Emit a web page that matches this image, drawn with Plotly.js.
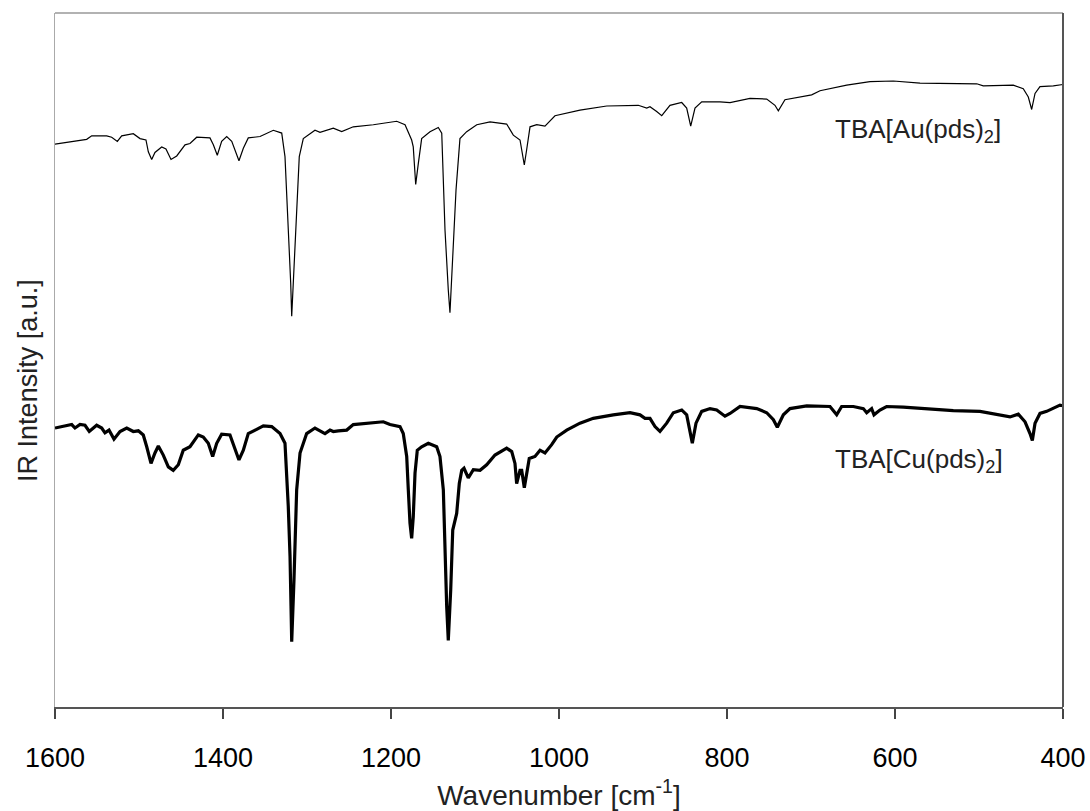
<!DOCTYPE html>
<html>
<head>
<meta charset="utf-8">
<script src="https://cdn.plot.ly/plotly-3.0.1.min.js"></script>
<style>html,body{margin:0;padding:0;background:#fff;}#chart{width:1090px;height:811px;}</style>
</head>
<body>
<div id="chart"></div>
<script>
// Wavenumber (cm-1) and relative IR intensity (a.u.)
const auWavenumber = [1600,1578.2,1562.3,1556.3,1538.5,1532.5,1525.8,1520.6,1506.8,1498.8,1491.7,1488.9,1484.9,1481.0,1473.0,1467.9,1461.9,1455.1,1445.2,1439.3,1431.3,1415.5,1411.5,1406.8,1401.6,1395.6,1389.6,1381.0,1375.8,1369.9,1355.9,1340.1,1330.1,1326.2,1322.3,1319.4,1318.2,1316.3,1313.1,1309.2,1304.4,1290.5,1284.5,1268.7,1258.7,1244.9,1221.1,1201.2,1193.2,1183.3,1175.4,1173.5,1170.6,1167.5,1163.5,1153.6,1143.7,1139.6,1135.7,1131.8,1129.8,1126.5,1122.6,1117.9,1109.9,1097.9,1082.1,1062.3,1054.4,1046.4,1041.3,1038.5,1034.5,1026.5,1016.7,1004.8,975.0,943.2,905.6,895.6,891.7,883.7,877.7,867.9,853.9,848.0,843.2,838.1,830.1,808.3,796.4,772.6,752.7,742.9,738.9,731.0,713.1,699.2,689.3,657.5,629.8,602.0,570.2,530.6,502.7,494.9,459.2,447.3,441.3,437.3,433.3,427.4,411.5,400];
const auIntensity = [81.1,81.5,81.8,82.3,82.3,82.1,81.5,82.3,82.6,81.9,81.7,80.0,78.9,79.9,80.7,80.4,78.9,79.4,81.0,81.2,82.1,82.0,81.0,79.5,81.5,82.2,81.5,78.7,80.5,82.0,82.2,83.1,82.7,79.3,69.7,61.1,56.3,61.1,69.7,79.3,81.9,83.1,82.8,83.4,82.9,83.6,83.9,84.3,84.4,83.9,81.7,80.7,75.3,78.3,81.9,82.9,83.5,82.7,68.7,60.1,56.8,64.9,74.5,81.9,82.9,83.9,84.3,84.0,82.4,81.7,78.1,80.3,83.6,83.9,83.7,85.2,86.0,86.6,86.7,86.3,86.5,85.8,85.2,86.7,87.1,86.3,83.7,86.3,87.2,87.2,87.1,87.7,87.6,86.7,85.9,87.5,87.9,88.2,88.8,89.6,90.1,90.2,89.9,89.9,89.8,89.5,89.6,89.1,87.9,86.1,88.4,89.4,89.5,89.7];

const cuWavenumber = [1600,1586.1,1580.1,1576.2,1570.2,1564.3,1559.2,1550.4,1544.4,1540.5,1535.7,1529.8,1522.6,1514.6,1506.8,1500.8,1494.9,1490.8,1485.7,1481.0,1477.0,1471.1,1465.1,1459.2,1453.2,1447.3,1439.3,1429.4,1423.5,1417.5,1412.3,1407.5,1401.6,1391.7,1385.7,1381.0,1375.8,1369.9,1359.9,1352.0,1342.0,1332.1,1326.2,1322.3,1320.2,1318.2,1315.5,1312.3,1308.3,1300.4,1290.5,1278.6,1272.6,1268.7,1262.7,1252.7,1244.9,1221.1,1209.2,1201.2,1189.3,1185.4,1181.3,1179.4,1177.4,1175.4,1173.5,1171.4,1168.7,1163.5,1155.6,1145.6,1141.7,1137.7,1135.7,1133.7,1131.8,1128.9,1126.5,1121.8,1118.7,1115.8,1113.1,1108.0,1102.0,1094.0,1086.1,1076.2,1062.3,1056.3,1052.4,1050.4,1046.4,1044.4,1041.3,1038.5,1035.4,1028.6,1022.6,1016.7,1008.7,1002.7,990.8,975.0,959.2,935.4,915.5,903.6,897.6,891.7,885.7,879.8,871.8,863.9,853.9,848.0,844.0,841.3,836.9,830.1,820.2,812.3,802.4,796.4,784.5,764.6,752.7,744.8,740.1,732.9,725.0,705.1,677.4,669.4,663.5,649.6,637.7,633.7,627.8,625.0,617.9,610.0,590.1,562.3,530.6,498.8,478.9,463.1,453.2,445.2,439.3,436.5,433.3,427.4,419.4,411.5,403.6,400];
const cuIntensity = [40.2,40.5,40.7,40.2,40.7,40.6,39.7,40.6,40.2,39.5,39.9,38.6,39.7,40.2,39.7,39.8,39.2,37.5,35.1,36.6,37.6,36.3,34.6,34.1,34.9,37.0,37.5,39.2,38.9,38.0,36.1,38.0,39.3,39.2,37.3,35.6,37.0,39.4,40.0,40.5,40.4,39.4,38.0,28.9,21.7,9.4,18.3,31.3,36.6,39.4,40.2,39.4,39.9,39.7,39.8,39.9,40.7,41.0,41.1,40.7,40.4,39.4,36.1,31.3,26.5,24.3,27.4,33.7,37.0,37.5,38.0,37.5,36.1,31.3,21.7,14.5,9.6,16.9,25.5,27.9,32.2,34.1,34.4,33.0,34.2,34.1,34.9,36.3,37.3,36.8,35.1,32.2,34.1,34.1,31.6,33.7,35.8,36.1,37.0,36.6,37.8,38.9,39.9,40.9,41.6,42.1,42.4,42.1,41.6,41.6,40.4,39.7,40.9,42.4,42.8,42.1,39.9,38.0,40.9,42.6,43.0,42.8,41.9,42.3,43.3,43.0,42.4,41.4,40.3,42.1,43.0,43.4,43.3,42.1,43.3,43.3,43.0,42.4,43.0,42.1,42.8,43.3,43.2,43.0,42.7,42.6,42.1,41.8,42.2,41.1,39.4,38.4,40.9,42.3,42.6,43.0,43.5,43.4];

const seriesNames = ['TBA[Au(pds)<sub>2</sub>]', 'TBA[Cu(pds)<sub>2</sub>]'];
const xTickValues = [1600, 1400, 1200, 1000, 800, 600, 400];
const xTitle = 'Wavenumber [cm<sup>-1</sup>]';
const yTitle = 'IR Intensity [a.u.]';

const FONT = 'Arial, "Liberation Sans", sans-serif';

const traces = [
  {x: auWavenumber, y: auIntensity, name: seriesNames[0], mode: 'lines', type: 'scatter',
   line: {color: '#000', width: 1.2}, showlegend: false, hoverinfo: 'x+y'},
  {x: cuWavenumber, y: cuIntensity, name: seriesNames[1], mode: 'lines', type: 'scatter',
   line: {color: '#000', width: 3.2}, showlegend: false, hoverinfo: 'x+y'}
];

const layout = {
  width: 1090, height: 811,
  margin: {l: 55, r: 27, t: 13, b: 104, pad: 0},
  paper_bgcolor: '#fff', plot_bgcolor: '#fff',
  font: {family: FONT, color: '#000', size: 26},
  xaxis: {
    range: [1600, 400], autorange: false,
    tickvals: xTickValues, ticktext: xTickValues.map(String),
    ticks: 'outside', ticklen: 10, tickwidth: 2, tickcolor: '#444',
    ticklabelstandoff: 16,
    showline: true, linecolor: '#555', linewidth: 2,
    showgrid: false, zeroline: false,
    tickfont: {family: FONT, size: 27, color: '#000'},
    title: {text: xTitle, font: {family: FONT, size: 28, color: '#222'}, standoff: 28},
    automargin: false
  },
  yaxis: {
    range: [0, 100], autorange: false,
    showticklabels: false, ticks: '',
    showline: true, linecolor: '#aaa', linewidth: 1.5,
    showgrid: false, zeroline: false, automargin: false
  },
  shapes: [
    {type: 'line', xref: 'paper', yref: 'paper', x0: 0, x1: 1, y0: 1, y1: 1, line: {color: '#999', width: 1.5}},
    {type: 'line', xref: 'paper', yref: 'paper', x0: 1, x1: 1, y0: 0, y1: 1, line: {color: '#555', width: 2}}
  ],
  annotations: [
    {xref: 'paper', yref: 'paper', x: -0.027, y: 0.471, text: yTitle, textangle: -90, showarrow: false,
     xanchor: 'center', yanchor: 'middle', font: {family: FONT, size: 27, color: '#222'}},
    {xref: 'x', yref: 'y', x: 674, y: 83.0, text: seriesNames[0], showarrow: false,
     xanchor: 'left', yanchor: 'middle', font: {family: FONT, size: 26, color: '#222'}},
    {xref: 'x', yref: 'y', x: 674, y: 35.5, text: seriesNames[1], showarrow: false,
     xanchor: 'left', yanchor: 'middle', font: {family: FONT, size: 26, color: '#222'}}
  ]
};

Plotly.newPlot('chart', traces, layout, {displayModeBar: false, staticPlot: true});
</script>
</body>
</html>
